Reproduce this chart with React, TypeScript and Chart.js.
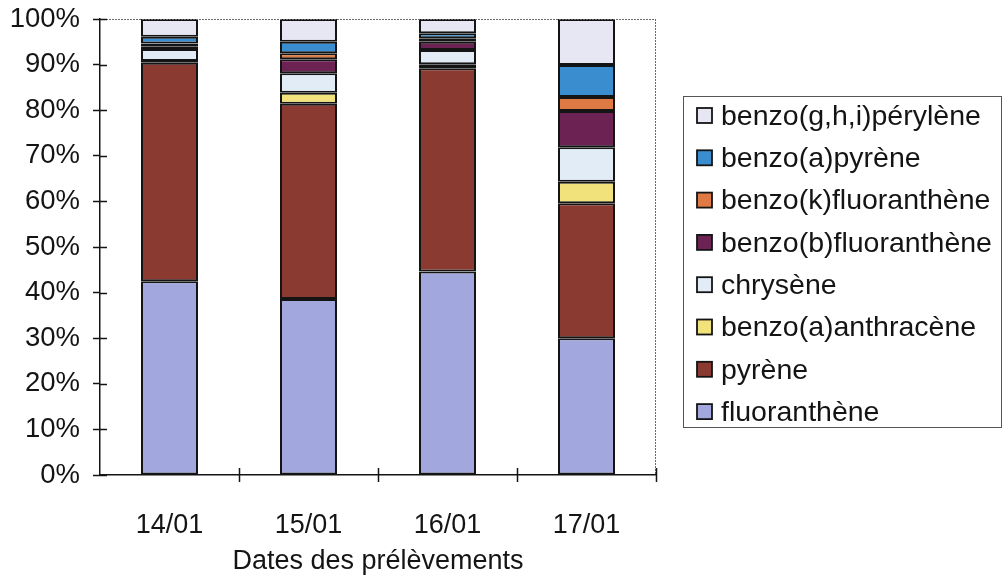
import React, { useEffect, useRef } from "react";
import { Chart, registerables } from "chart.js";

Chart.register(...registerables);

const dates = ["14/01", "15/01", "16/01", "17/01"];
const fluoranthene = [42.5, 38.6, 44.6, 30.0];
const pyrene = [47.9, 42.8, 44.6, 29.6];
const benzoAAnthracene = [0.4, 2.4, 0.9, 4.7];
const chrysene = [2.6, 4.3, 3.1, 7.6];
const benzoBFluoranthene = [0.6, 3.1, 1.8, 7.9];
const benzoKFluoranthene = [0.6, 1.3, 0.8, 3.1];
const benzoAPyrene = [1.5, 2.5, 1.1, 7.0];
const benzoGHIPerylene = [3.9, 5.0, 3.1, 10.1];
const yTickValues = [0, 10, 20, 30, 40, 50, 60, 70, 80, 90, 100];
const xTitle = "Dates des prélèvements";

const FONT = "'Liberation Sans', Arial, Helvetica, sans-serif";
const INK = "#141414";

const decorPlugin = {
  id: "decor",
  afterDraw(chart: any) {
    const { ctx, chartArea, scales } = chart;
    const x = scales.x;
    const y = scales.y;
    ctx.save();
    // top and right plot border (dotted grey)
    ctx.strokeStyle = "#6a6a6a";
    ctx.lineWidth = 1;
    ctx.setLineDash([2, 1]);
    ctx.beginPath();
    ctx.moveTo(chartArea.left, Math.round(chartArea.top) + 0.5);
    ctx.lineTo(chartArea.right, Math.round(chartArea.top) + 0.5);
    ctx.moveTo(chartArea.right - 0.5, chartArea.top);
    ctx.lineTo(chartArea.right - 0.5, chartArea.bottom);
    ctx.stroke();
    ctx.setLineDash([]);
    // inner half of the crossing y ticks
    ctx.strokeStyle = INK;
    ctx.lineWidth = 1.5;
    ctx.beginPath();
    yTickValues.forEach((v) => {
      const py = Math.round(y.getPixelForValue(v)) + 0.5;
      ctx.moveTo(chartArea.left - 1, py);
      ctx.lineTo(chartArea.left + 7, py);
    });
    ctx.stroke();
    // crossing x ticks at category boundaries
    ctx.beginPath();
    for (let i = 0; i < dates.length; i++) {
      const px =
        i < dates.length - 1
          ? (x.getPixelForValue(i) + x.getPixelForValue(i + 1)) / 2
          : chartArea.right;
      const rx = Math.round(px) + 0.5;
      ctx.moveTo(rx, chartArea.bottom - 7);
      ctx.lineTo(rx, chartArea.bottom + 7);
    }
    ctx.stroke();

    // legend box
    const bx = 683, by = 96, bw = 318, bh = 331;
    ctx.strokeStyle = "#555";
    ctx.lineWidth = 1;
    ctx.strokeRect(bx + 0.5, by + 0.5, bw, bh);
    const ds = chart.data.datasets.slice().reverse();
    ctx.font = "28.5px " + FONT;
    ctx.textBaseline = "middle";
    ctx.textAlign = "left";
    ds.forEach((d: any, i: number) => {
      const cy = 116 + i * 42.3;
      ctx.fillStyle = d.backgroundColor;
      ctx.fillRect(697, cy - 8, 15, 15);
      ctx.strokeStyle = INK;
      ctx.lineWidth = 1.8;
      ctx.strokeRect(697, cy - 8, 15, 15);
      ctx.fillStyle = INK;
      ctx.fillText(d.label, 721, cy + 1);
    });
    ctx.restore();
  },
};

export default function App() {
  const ref = useRef<HTMLCanvasElement | null>(null);

  useEffect(() => {
    if (!ref.current) return;
    const mk = (label: string, data: number[], color: string) => ({
      label,
      data,
      backgroundColor: color,
      borderColor: INK,
      borderWidth: 2,
      borderSkipped: false,
      stack: "s",
      barPercentage: 0.41,
      categoryPercentage: 1.0,
    });
    const chart = new Chart(ref.current, {
      type: "bar",
      data: {
        labels: dates,
        datasets: [
          mk("fluoranthène", fluoranthene, "#a2a8de"),
          mk("pyrène", pyrene, "#8b3a32"),
          mk("benzo(a)anthracène", benzoAAnthracene, "#f2e27c"),
          mk("chrysène", chrysene, "#e2ecf7"),
          mk("benzo(b)fluoranthène", benzoBFluoranthene, "#6c2354"),
          mk("benzo(k)fluoranthène", benzoKFluoranthene, "#e07a45"),
          mk("benzo(a)pyrène", benzoAPyrene, "#3a8ecf"),
          mk("benzo(g,h,i)pérylène", benzoGHIPerylene, "#e7e7f4"),
        ],
      },
      options: {
        responsive: false,
        animation: false,
        devicePixelRatio: 1,
        layout: { padding: { top: 19, right: 347, left: 0, bottom: 0 } },
        plugins: {
          legend: { display: false },
          tooltip: { enabled: false },
        },
        scales: {
          x: {
            stacked: true,
            grid: { display: false, drawTicks: false },
            border: { display: true, color: INK, width: 1.5 },
            ticks: {
              color: INK,
              padding: 34,
              font: { family: FONT, size: 27 },
            },
            title: {
              display: true,
              text: xTitle,
              color: INK,
              font: { family: FONT, size: 27 },
              padding: { top: 0, bottom: 2 },
            },
            afterFit(scale: any) {
              scale.height = 105;
              scale.paddingLeft = 0;
              scale.paddingRight = 0;
            },
          },
          y: {
            stacked: true,
            min: 0,
            max: 100,
            grid: {
              display: true,
              drawOnChartArea: false,
              drawTicks: true,
              tickLength: 7,
              tickWidth: 1.5,
              tickColor: INK,
              color: INK,
            },
            border: { display: true, color: INK, width: 1.5 },
            ticks: {
              stepSize: 10,
              color: INK,
              padding: 13,
              font: { family: FONT, size: 27.5 },
              callback: (v: any) => v + "%",
            },
            afterFit(scale: any) {
              scale.width = 100;
              scale.paddingTop = 0;
              scale.paddingBottom = 0;
            },
          },
        },
      },
      plugins: [decorPlugin],
    } as any);
    return () => chart.destroy();
  }, []);

  return (
    <div
      style={{
        position: "fixed",
        left: 0,
        top: 0,
        width: 1003,
        height: 580,
        background: "#fff",
      }}
    >
      <canvas ref={ref} width={1003} height={580} />
    </div>
  );
}
